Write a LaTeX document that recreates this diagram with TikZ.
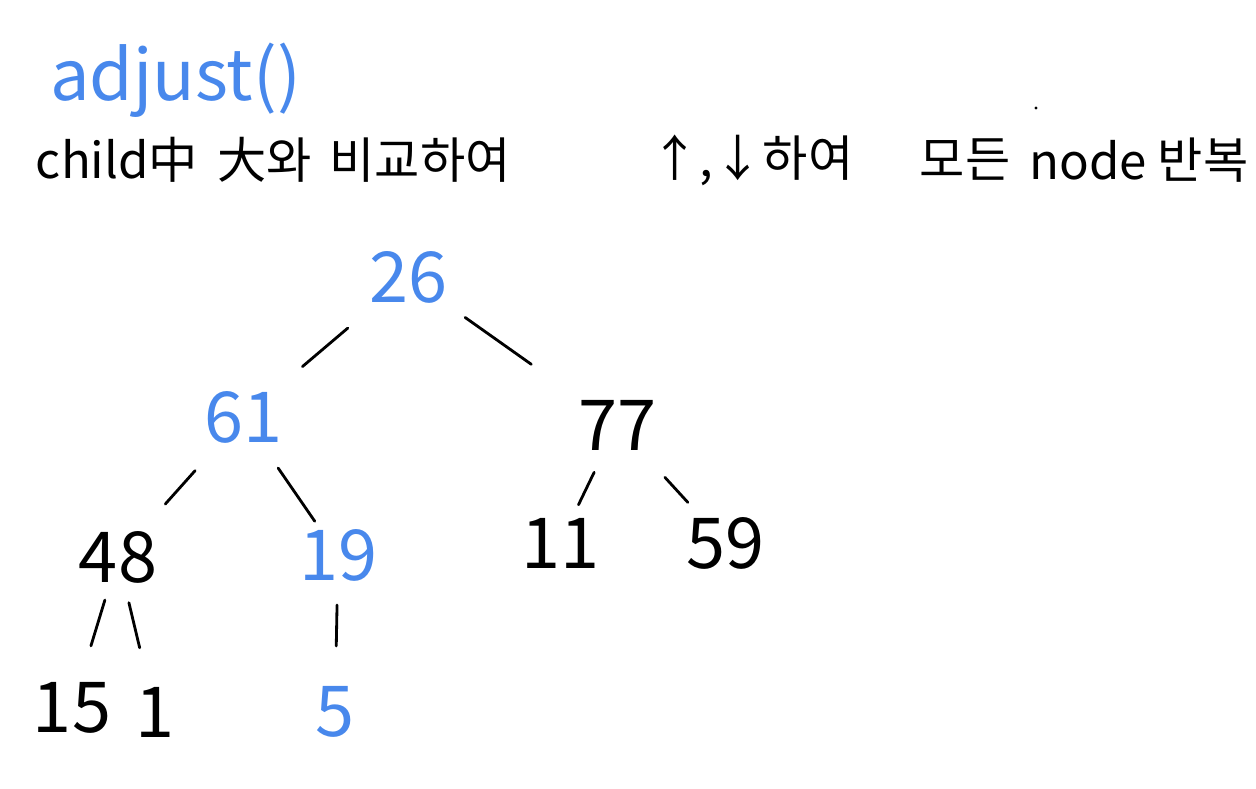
\documentclass[tikz,border=0pt]{standalone}
\usepackage{fontspec}
\setmainfont{Noto Sans CJK KR}
\definecolor{penblue}{RGB}{72,136,236}

\begin{document}
\begin{tikzpicture}[x=0.02cm,y=-0.02cm,
        num/.style={font=\fontsize{40}{40}\selectfont,inner sep=0pt},
        word/.style={font=\fontsize{28}{28}\selectfont,inner sep=0pt},
        stroke/.style={line width=1.6pt,line cap=round}]
        \useasboundingbox (0,0) rectangle (1256,788);

        % 제목
        \node[anchor=base west,text=penblue,font=\fontsize{40}{40}\selectfont,inner sep=0pt] (title) at (50,100) {adjust()};

        % 설명
        \node[word] (w1) at (117,160) {child中};
        \node[word] (w2) at (265,160) {大와};
        \node[word] (w3) at (420,160) {비교하여};
        \node[word] (w4) at (752,160) {↑,↓하여};
        \node[word] (w5) at (965,160) {모든};
        \node[word] (w6) at (1088,160) {node};
        \node[word] (w7) at (1203,160) {반복};
        \coordinate (speck) at (1036,108);
        \fill (speck) circle (1.6);

        % 트리
        \node[num,text=penblue] (n26) at (408,277) {26};
        \node[num,text=penblue] (n61) at (243,417) {61};
        \node[num] (n77) at (617,425) {77};
        \node[num] (n48) at (118,557) {48};
        \node[num,text=penblue] (n19) at (338,555) {19};
        \node[num] (n11) at (560,543) {11};
        \node[num] (n59) at (725,543) {59};
        \node[num] (n15) at (72,708) {15};
        \node[num] (n1) at (155,712) {1};
        \node[num,text=penblue] (n5) at (335,712) {5};

        % 간선
        \draw[stroke,shorten <=1.58cm,shorten >=1.56cm] (n26.center) -- (n61.center);
        \draw[stroke,shorten <=1.40cm,shorten >=2.10cm] (n26.center) -- (n77.center);
        \draw[stroke,shorten <=1.44cm,shorten >=1.42cm] (n61.center) -- (n48.center);
        \draw[stroke,shorten <=1.24cm,shorten >=0.82cm] (n61.center) -- (n19.center);
        \draw[stroke,shorten <=1.05cm,shorten >=0.85cm] (n77.center) -- (n11.center);
        \draw[stroke,shorten <=1.42cm,shorten >=1.10cm] (n77.center) -- (n59.center);
        \draw[stroke,shorten <=0.90cm,shorten >=1.30cm] (n48.center) -- (n15.center);
        \draw[stroke,shorten <=0.94cm,shorten >=1.32cm] (n48.center) -- (n1.center);
        \draw[stroke,shorten <=1.00cm,shorten >=1.32cm] (n19.center) -- (n5.center);
\end{tikzpicture}
\end{document}
